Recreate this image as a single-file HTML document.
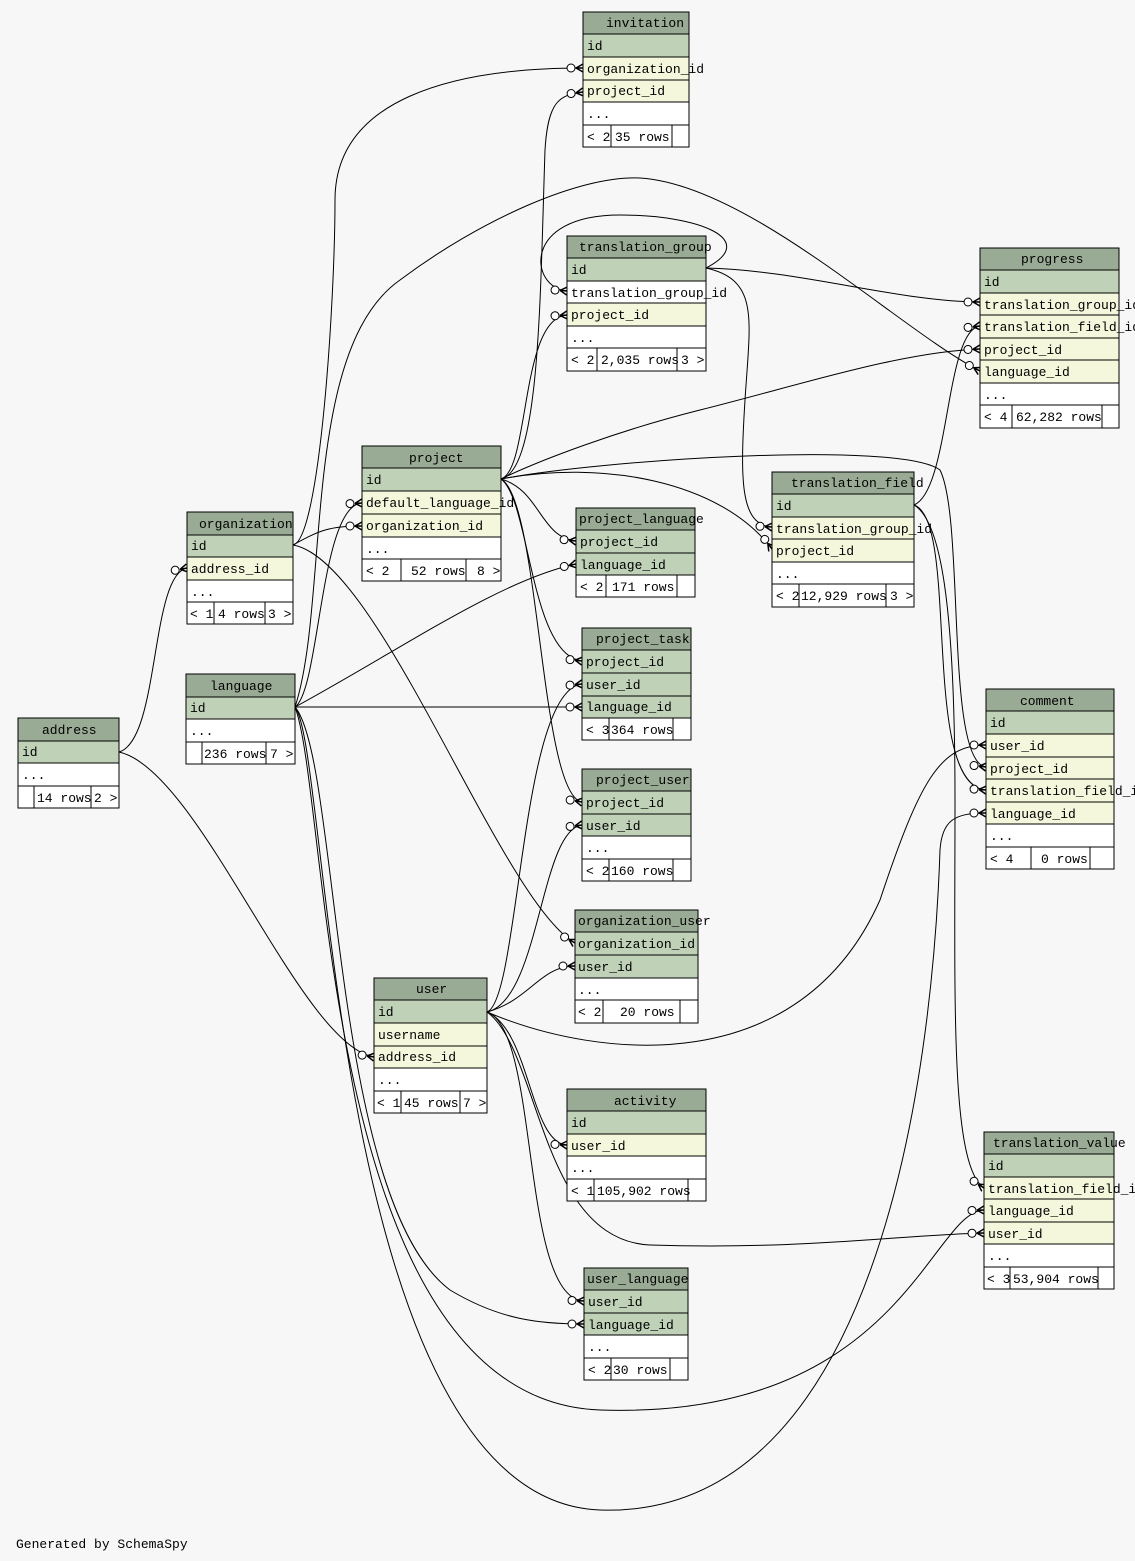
<!DOCTYPE html>
<html><head><meta charset="utf-8"><style>
html,body{margin:0;padding:0;background:#f7f7f7}
svg{display:block}
text{font-family:"Liberation Mono",monospace;font-size:13px;fill:#000}
.h{fill:#9aab95;stroke:#000}
.k{fill:#bfd2b8;stroke:#000}
.f{fill:#f5f7dd;stroke:#000}
.w{fill:#fff;stroke:#000}
.e{fill:none;stroke:#000;stroke-width:1}
path.e{marker-end:url(#cf)}
</style></head><body>
<svg width="1135" height="1561" viewBox="0 0 1135 1561" xmlns="http://www.w3.org/2000/svg">
<defs>
<marker id="cf" markerUnits="userSpaceOnUse" viewBox="-20 -8 22 16" refX="0" refY="0" markerWidth="22" markerHeight="16" orient="auto" overflow="visible">
<circle cx="-12" cy="0" r="4" fill="#fff" stroke="#000"/>
<path d="M-7,0 L0,-4 M-7,0 L0,0 M-7,0 L0,4" stroke="#000" stroke-width="1.5" fill="none"/>
</marker>
</defs>
<rect width="1135" height="1561" fill="#f7f7f7"/>

<!-- edges -->
<path class="e" d="M293,545 C320,540 335,300 335,200 C335,100 450,68 583,68"/>
<path class="e" d="M501,479 C540,470 540,300 545,150 C548,100 560,95 583,92"/>
<path class="e" d="M501,479 C530,470 520,318 567,315"/>
<path class="e" d="M706,268 C760,240 700,215 620,215 C520,215 530,288 567,291"/>
<path class="e" d="M706,268 C800,270 900,302 980,302"/>
<path class="e" d="M706,268 C760,280 750,320 745,400 C740,480 740,525 772,527"/>
<path class="e" d="M914,505 C950,490 945,330 980,326"/>
<path class="e" d="M501,479 C540,460 620,430 700,410 C800,385 900,352 980,349"/>
<path class="e" d="M295,707 C330,600 300,350 400,280 C480,220 580,175 640,178 C750,185 900,330 980,371"/>
<path class="e" d="M501,479 C600,460 720,480 772,549"/>
<path class="e" d="M501,479 C600,460 900,440 940,470 C965,520 945,762 986,767"/>
<path class="e" d="M914,505 C960,520 920,785 986,790"/>
<path class="e" d="M914,505 C940,520 955,600 955,800 C955,1000 950,1165 984,1188"/>
<path class="e" d="M501,479 C540,490 540,537 576,541"/>
<path class="e" d="M295,707 C400,650 500,580 576,564"/>
<path class="e" d="M501,479 C530,500 530,655 582,661"/>
<path class="e" d="M487,1012 C520,1000 520,690 582,684"/>
<path class="e" d="M295,707 L582,707"/>
<path class="e" d="M501,479 C540,500 540,795 582,802"/>
<path class="e" d="M487,1012 C540,1000 540,830 582,825"/>
<path class="e" d="M293,545 C380,560 500,900 575,943"/>
<path class="e" d="M487,1012 C530,1000 540,966 575,966"/>
<path class="e" d="M119,752 C160,740 150,575 187,568"/>
<path class="e" d="M119,752 C200,770 300,1045 374,1057"/>
<path class="e" d="M487,1012 C600,1060 800,1080 880,900 C920,780 940,745 986,745"/>
<path class="e" d="M295,707 C330,750 330,1500 600,1510 C900,1520 935,1000 940,850 C942,820 955,813 986,813"/>
<path class="e" d="M487,1012 C530,1030 530,1143 567,1145"/>
<path class="e" d="M487,1012 C540,1030 520,1298 584,1301"/>
<path class="e" d="M295,707 C340,760 330,1200 450,1290 C500,1320 540,1324 584,1324"/>
<path class="e" d="M295,707 C330,800 320,1400 600,1410 C900,1420 930,1212 984,1210"/>
<path class="e" d="M487,1012 C540,1050 540,1240 650,1245 C800,1250 900,1235 984,1233"/>
<path class="e" d="M295,707 C320,690 320,505 362,503"/>
<path class="e" d="M293,545 C320,530 330,526 362,526"/>

<!-- invitation -->
<g>
<rect class="h" x="583" y="12" width="106" height="22"/><text x="606" y="27">invitation</text>
<rect class="k" x="583" y="34" width="106" height="23"/><text x="587" y="50">id</text>
<rect class="f" x="583" y="57" width="106" height="23"/><text x="587" y="73">organization_id</text>
<rect class="f" x="583" y="80" width="106" height="22"/><text x="587" y="95">project_id</text>
<rect class="w" x="583" y="102" width="106" height="23"/><text x="587" y="118">...</text>
<rect class="w" x="583" y="125" width="106" height="22"/><line x1="611" y1="125" x2="611" y2="147" stroke="#000"/><line x1="672" y1="125" x2="672" y2="147" stroke="#000"/><text x="587" y="141">&lt; 2</text><text x="615" y="141">35 rows</text>
</g>
<!-- translation_group -->
<g>
<rect class="h" x="567" y="236" width="139" height="22"/><text x="579" y="251">translation_group</text>
<rect class="k" x="567" y="258" width="139" height="23"/><text x="571" y="274">id</text>
<rect class="w" x="567" y="281" width="139" height="22"/><text x="571" y="297">translation_group_id</text>
<rect class="f" x="567" y="303" width="139" height="23"/><text x="571" y="319">project_id</text>
<rect class="w" x="567" y="326" width="139" height="22"/><text x="571" y="342">...</text>
<rect class="w" x="567" y="348" width="139" height="23"/><line x1="597" y1="348" x2="597" y2="371" stroke="#000"/><line x1="677" y1="348" x2="677" y2="371" stroke="#000"/><text x="571" y="364">&lt; 2</text><text x="601" y="364">2,035 rows</text><text x="681" y="364">3 &gt;</text>
</g>
<!-- progress -->
<g>
<rect class="h" x="980" y="248" width="139" height="22"/><text x="1021" y="263">progress</text>
<rect class="k" x="980" y="270" width="139" height="23"/><text x="984" y="286">id</text>
<rect class="f" x="980" y="293" width="139" height="22"/>
<rect class="f" x="980" y="315" width="139" height="23"/>
<rect class="f" x="980" y="338" width="139" height="22"/><text x="984" y="354">project_id</text>
<rect class="f" x="980" y="360" width="139" height="23"/><text x="984" y="376">language_id</text>
<rect class="w" x="980" y="383" width="139" height="22"/><text x="984" y="399">...</text>
<rect class="w" x="980" y="405" width="139" height="23"/><line x1="1012" y1="405" x2="1012" y2="428" stroke="#000"/><line x1="1102" y1="405" x2="1102" y2="428" stroke="#000"/><text x="984" y="421">&lt; 4</text><text x="1016" y="421">62,282 rows</text>
<text x="984" y="309">translation_group_id</text>
<text x="984" y="331">translation_field_id</text>
</g>
<!-- project -->
<g>
<rect class="h" x="362" y="446" width="139" height="22"/><text x="409" y="462">project</text>
<rect class="k" x="362" y="468" width="139" height="23"/><text x="366" y="484">id</text>
<rect class="f" x="362" y="491" width="139" height="23"/><text x="366" y="507">default_language_id</text>
<rect class="f" x="362" y="514" width="139" height="23"/><text x="366" y="530">organization_id</text>
<rect class="w" x="362" y="537" width="139" height="22"/><text x="366" y="553">...</text>
<rect class="w" x="362" y="559" width="139" height="22"/><line x1="401" y1="559" x2="401" y2="581" stroke="#000"/><line x1="466" y1="559" x2="466" y2="581" stroke="#000"/><text x="366" y="575">&lt; 2</text><text x="411" y="575">52 rows</text><text x="477" y="575">8 &gt;</text>
</g>
<!-- organization -->
<g>
<rect class="h" x="187" y="512" width="106" height="23"/><text x="199" y="528">organization</text>
<rect class="k" x="187" y="535" width="106" height="22"/><text x="191" y="550">id</text>
<rect class="f" x="187" y="557" width="106" height="23"/><text x="191" y="573">address_id</text>
<rect class="w" x="187" y="580" width="106" height="22"/><text x="191" y="596">...</text>
<rect class="w" x="187" y="602" width="106" height="22"/><line x1="214" y1="602" x2="214" y2="624" stroke="#000"/><line x1="265" y1="602" x2="265" y2="624" stroke="#000"/><text x="190" y="618">&lt; 1</text><text x="218" y="618">4 rows</text><text x="268" y="618">3 &gt;</text>
</g>
<!-- language -->
<g>
<rect class="h" x="186" y="674" width="109" height="23"/><text x="210" y="690">language</text>
<rect class="k" x="186" y="697" width="109" height="22"/><text x="190" y="712">id</text>
<rect class="w" x="186" y="719" width="109" height="23"/><text x="190" y="735">...</text>
<rect class="w" x="186" y="742" width="109" height="22"/><line x1="202" y1="742" x2="202" y2="764" stroke="#000"/><line x1="266" y1="742" x2="266" y2="764" stroke="#000"/><text x="204" y="758">236 rows</text><text x="270" y="758">7 &gt;</text>
</g>
<!-- address -->
<g>
<rect class="h" x="18" y="718" width="101" height="23"/><text x="42" y="734">address</text>
<rect class="k" x="18" y="741" width="101" height="22"/><text x="22" y="756">id</text>
<rect class="w" x="18" y="763" width="101" height="23"/><text x="22" y="779">...</text>
<rect class="w" x="18" y="786" width="101" height="22"/><line x1="34" y1="786" x2="34" y2="808" stroke="#000"/><line x1="91" y1="786" x2="91" y2="808" stroke="#000"/><text x="37" y="802">14 rows</text><text x="94" y="802">2 &gt;</text>
</g>
<!-- project_language -->
<g>
<rect class="h" x="576" y="508" width="119" height="22"/><text x="579" y="523">project_language</text>
<rect class="k" x="576" y="530" width="119" height="23"/><text x="580" y="546">project_id</text>
<rect class="k" x="576" y="553" width="119" height="22"/><text x="580" y="569">language_id</text>
<rect class="w" x="576" y="575" width="119" height="22"/><line x1="606" y1="575" x2="606" y2="597" stroke="#000"/><line x1="677" y1="575" x2="677" y2="597" stroke="#000"/><text x="580" y="591">&lt; 2</text><text x="612" y="591">171 rows</text>
</g>
<!-- project_task -->
<g>
<rect class="h" x="582" y="628" width="109" height="22"/><text x="596" y="643">project_task</text>
<rect class="k" x="582" y="650" width="109" height="23"/><text x="586" y="666">project_id</text>
<rect class="k" x="582" y="673" width="109" height="23"/><text x="586" y="689">user_id</text>
<rect class="k" x="582" y="696" width="109" height="22"/><text x="586" y="711">language_id</text>
<rect class="w" x="582" y="718" width="109" height="22"/><line x1="609" y1="718" x2="609" y2="740" stroke="#000"/><line x1="673" y1="718" x2="673" y2="740" stroke="#000"/><text x="586" y="734">&lt; 3</text><text x="611" y="734">364 rows</text>
</g>
<!-- project_user -->
<g>
<rect class="h" x="582" y="769" width="109" height="22"/><text x="596" y="784">project_user</text>
<rect class="k" x="582" y="791" width="109" height="23"/><text x="586" y="807">project_id</text>
<rect class="k" x="582" y="814" width="109" height="22"/><text x="586" y="830">user_id</text>
<rect class="w" x="582" y="836" width="109" height="23"/><text x="586" y="852">...</text>
<rect class="w" x="582" y="859" width="109" height="22"/><line x1="609" y1="859" x2="609" y2="881" stroke="#000"/><line x1="673" y1="859" x2="673" y2="881" stroke="#000"/><text x="586" y="875">&lt; 2</text><text x="611" y="875">160 rows</text>
</g>
<!-- translation_field -->
<g>
<rect class="h" x="772" y="472" width="142" height="22"/><text x="791" y="487">translation_field</text>
<rect class="k" x="772" y="494" width="142" height="23"/><text x="776" y="510">id</text>
<rect class="f" x="772" y="517" width="142" height="22"/><text x="776" y="533">translation_group_id</text>
<rect class="f" x="772" y="539" width="142" height="23"/><text x="776" y="555">project_id</text>
<rect class="w" x="772" y="562" width="142" height="22"/><text x="776" y="578">...</text>
<rect class="w" x="772" y="584" width="142" height="23"/><line x1="799" y1="584" x2="799" y2="607" stroke="#000"/><line x1="886" y1="584" x2="886" y2="607" stroke="#000"/><text x="776" y="600">&lt; 2</text><text x="801" y="600">12,929 rows</text><text x="890" y="600">3 &gt;</text>
</g>
<!-- comment -->
<g>
<rect class="h" x="986" y="689" width="128" height="22"/><text x="1020" y="705">comment</text>
<rect class="k" x="986" y="711" width="128" height="23"/><text x="990" y="727">id</text>
<rect class="f" x="986" y="734" width="128" height="23"/><text x="990" y="750">user_id</text>
<rect class="f" x="986" y="757" width="128" height="22"/><text x="990" y="773">project_id</text>
<rect class="f" x="986" y="779" width="128" height="23"/>
<rect class="f" x="986" y="802" width="128" height="22"/><text x="990" y="818">language_id</text>
<rect class="w" x="986" y="824" width="128" height="23"/><text x="990" y="840">...</text>
<rect class="w" x="986" y="847" width="128" height="22"/><line x1="1031" y1="847" x2="1031" y2="869" stroke="#000"/><line x1="1090" y1="847" x2="1090" y2="869" stroke="#000"/><text x="990" y="863">&lt; 4</text><text x="1041" y="863">0 rows</text>
<text x="990" y="795">translation_field_id</text>
</g>
<!-- organization_user -->
<g>
<rect class="h" x="575" y="910" width="123" height="22"/><text x="578" y="925">organization_user</text>
<rect class="k" x="575" y="932" width="123" height="23"/><text x="578" y="948">organization_id</text>
<rect class="k" x="575" y="955" width="123" height="23"/><text x="578" y="971">user_id</text>
<rect class="w" x="575" y="978" width="123" height="22"/><text x="578" y="994">...</text>
<rect class="w" x="575" y="1000" width="123" height="23"/><line x1="603" y1="1000" x2="603" y2="1023" stroke="#000"/><line x1="680" y1="1000" x2="680" y2="1023" stroke="#000"/><text x="578" y="1016">&lt; 2</text><text x="620" y="1016">20 rows</text>
</g>
<!-- user -->
<g>
<rect class="h" x="374" y="978" width="113" height="22"/><text x="416" y="993">user</text>
<rect class="k" x="374" y="1000" width="113" height="23"/><text x="378" y="1016">id</text>
<rect class="f" x="374" y="1023" width="113" height="23"/><text x="378" y="1039">username</text>
<rect class="f" x="374" y="1046" width="113" height="22"/><text x="378" y="1061">address_id</text>
<rect class="w" x="374" y="1068" width="113" height="23"/><text x="378" y="1084">...</text>
<rect class="w" x="374" y="1091" width="113" height="22"/><line x1="401" y1="1091" x2="401" y2="1113" stroke="#000"/><line x1="460" y1="1091" x2="460" y2="1113" stroke="#000"/><text x="377" y="1107">&lt; 1</text><text x="404" y="1107">45 rows</text><text x="463" y="1107">7 &gt;</text>
</g>
<!-- activity -->
<g>
<rect class="h" x="567" y="1089" width="139" height="22"/><text x="614" y="1105">activity</text>
<rect class="k" x="567" y="1111" width="139" height="23"/><text x="571" y="1127">id</text>
<rect class="f" x="567" y="1134" width="139" height="22"/><text x="571" y="1150">user_id</text>
<rect class="w" x="567" y="1156" width="139" height="23"/><text x="571" y="1172">...</text>
<rect class="w" x="567" y="1179" width="139" height="22"/><line x1="594" y1="1179" x2="594" y2="1201" stroke="#000"/><line x1="688" y1="1179" x2="688" y2="1201" stroke="#000"/><text x="571" y="1195">&lt; 1</text><text x="597" y="1195">105,902 rows</text>
</g>
<!-- user_language -->
<g>
<rect class="h" x="584" y="1268" width="104" height="22"/><text x="587" y="1283">user_language</text>
<rect class="k" x="584" y="1290" width="104" height="23"/><text x="588" y="1306">user_id</text>
<rect class="k" x="584" y="1313" width="104" height="22"/><text x="588" y="1329">language_id</text>
<rect class="w" x="584" y="1335" width="104" height="23"/><text x="588" y="1351">...</text>
<rect class="w" x="584" y="1358" width="104" height="22"/><line x1="611" y1="1358" x2="611" y2="1380" stroke="#000"/><line x1="670" y1="1358" x2="670" y2="1380" stroke="#000"/><text x="588" y="1374">&lt; 2</text><text x="613" y="1374">30 rows</text>
</g>
<!-- translation_value -->
<g>
<rect class="h" x="984" y="1132" width="130" height="22"/><text x="993" y="1147">translation_value</text>
<rect class="k" x="984" y="1154" width="130" height="23"/><text x="988" y="1170">id</text>
<rect class="f" x="984" y="1177" width="130" height="22"/>
<rect class="f" x="984" y="1199" width="130" height="23"/><text x="988" y="1215">language_id</text>
<rect class="f" x="984" y="1222" width="130" height="22"/><text x="988" y="1238">user_id</text>
<rect class="w" x="984" y="1244" width="130" height="23"/><text x="988" y="1260">...</text>
<rect class="w" x="984" y="1267" width="130" height="22"/><line x1="1010" y1="1267" x2="1010" y2="1289" stroke="#000"/><line x1="1098" y1="1267" x2="1098" y2="1289" stroke="#000"/><text x="987" y="1283">&lt; 3</text><text x="1013" y="1283">53,904 rows</text>
<text x="988" y="1193">translation_field_id</text>
</g>

<text x="16" y="1548">Generated by SchemaSpy</text>
</svg>
</body></html>
